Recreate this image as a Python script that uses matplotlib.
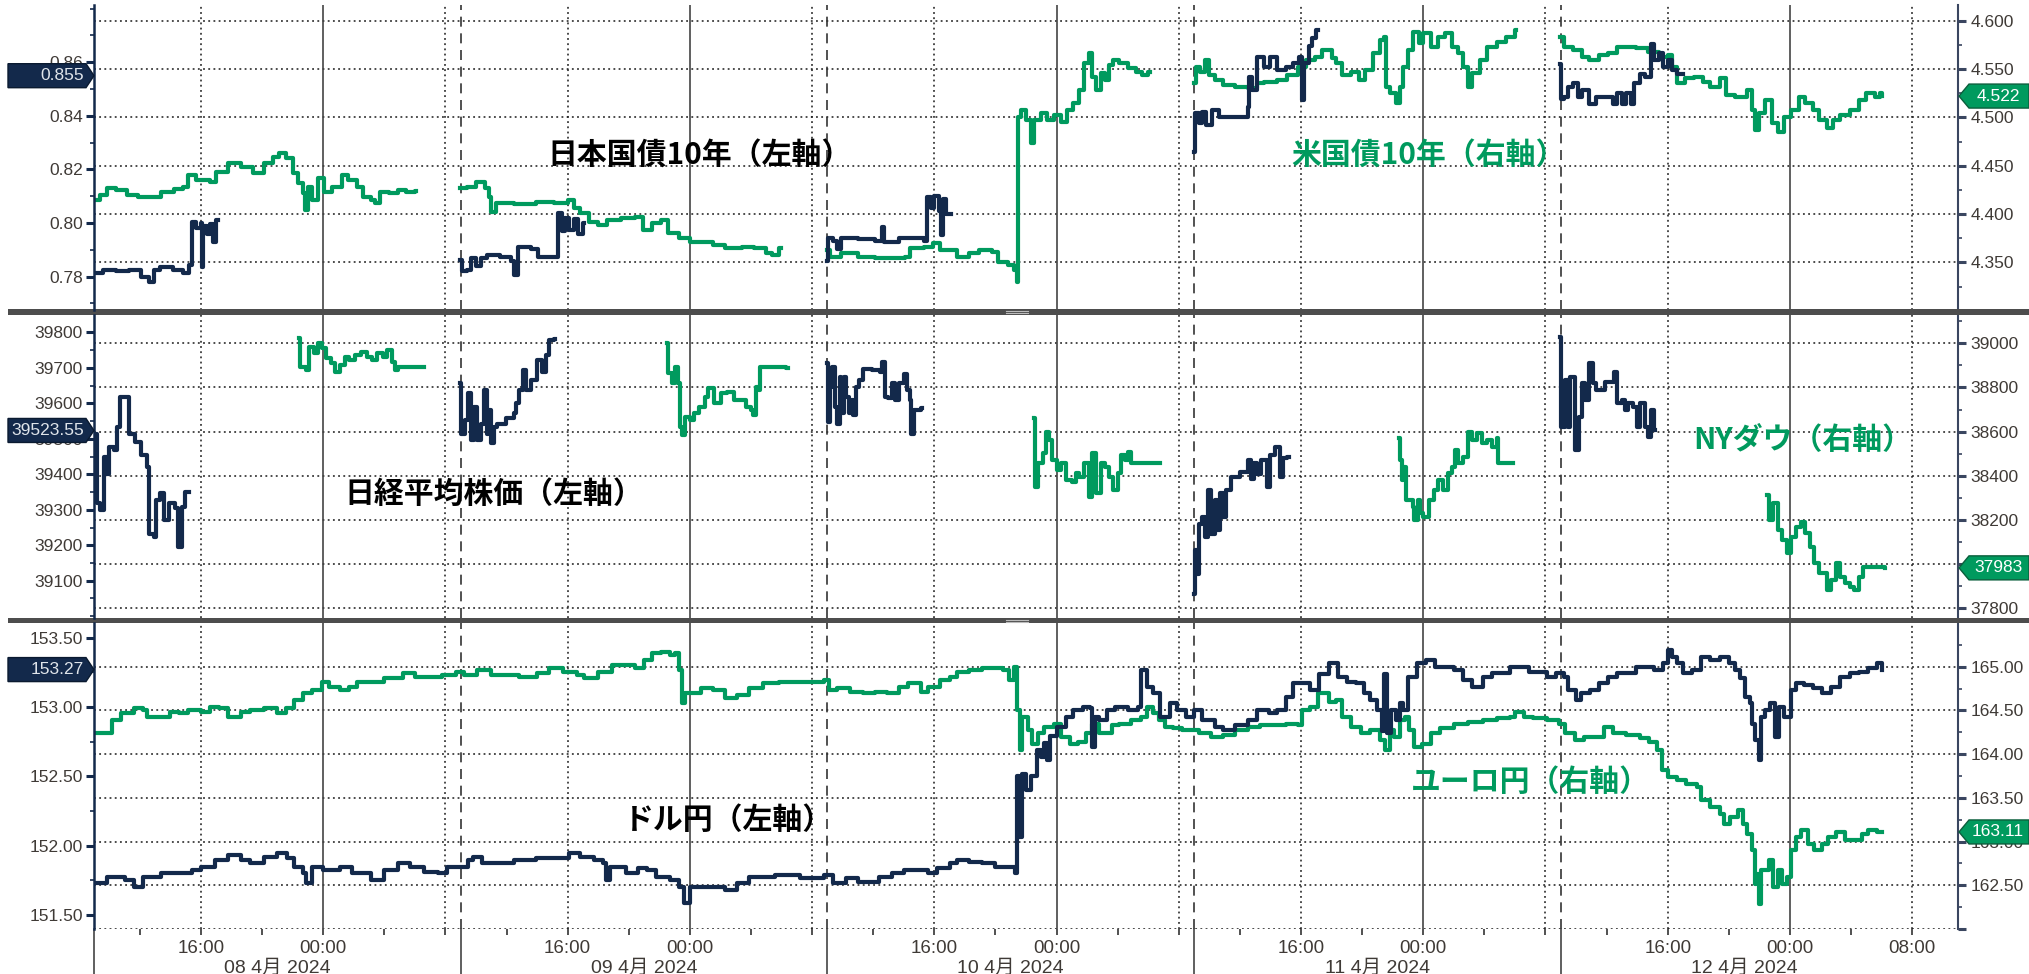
import matplotlib
matplotlib.use("Agg")
import matplotlib.pyplot as plt
import numpy as np
from matplotlib.patches import Polygon, Rectangle
from matplotlib.transforms import IdentityTransform
from matplotlib import font_manager

nan = np.nan

# time axis: hours since 2024-04-08 09:00 (Tokyo)
# --- panel 1: JGB 10y (left) / UST 10y (right)
jgb_t = [0.0, 0.58, 1.46, 2.3, 3.05, 3.6, 3.9, 4.35, 5.2, 5.8, 6.25, 6.4, 6.7, 7.0, 7.07, 7.16, 7.4, 7.6, 7.8, 7.97, 8.1,
         23.96, 24.1, 24.4, 24.7, 25.0, 25.3, 25.7, 26.6, 27.3, 27.46, 27.76, 28.6, 29.07, 30.24, 30.4, 30.6, 30.8, 31.1, 31.4, 31.7, 32.0, 32.1,
         47.97, 48.05, 48.4, 48.65, 48.9, 50.0, 51.1, 51.55, 51.7, 52.7, 53.8, 54.35, 54.5, 54.76, 55.0, 55.3, 55.44, 55.57, 55.76, 55.98, 56.1,
         72.0, 72.05, 72.3, 72.5, 72.8, 73.2, 73.6, 75.5, 75.6, 75.8, 76.1, 76.6, 77.0, 77.4, 78.0, 78.5, 78.9, 79.05, 79.2, 79.5, 79.7, 80.0, 80.1,
         95.94, 96.0, 96.2, 96.5, 96.8, 97.1, 97.4, 97.85, 98.3, 99.1, 99.4, 99.7, 100.0, 100.3, 100.6, 100.8, 101.2, 101.5, 101.9,
         102.1, 102.4, 102.7, 103.0, 103.3, 103.6, 103.9, 104.0]
jgb_v = [0.7815, 0.7825, 0.782, 0.7825, 0.780, 0.778, 0.7825, 0.7835, 0.7825, 0.7815, 0.7845, 0.8005, 0.798, 0.800, 0.7835, 0.799, 0.796, 0.7995, 0.793, 0.801, nan,
         0.7862, 0.782, 0.7825, 0.787, 0.784, 0.787, 0.788, 0.7875, 0.786, 0.7805, 0.791, 0.7905, 0.7875, 0.7875, 0.8036, 0.797, 0.802, 0.7975, 0.8015, 0.796, 0.800, nan,
         0.786, 0.7945, 0.7935, 0.7905, 0.7945, 0.794, 0.7935, 0.7986, 0.793, 0.7945, 0.7945, 0.7935, 0.8098, 0.8055, 0.810, 0.8045, 0.7955, 0.809, 0.8035, 0.8035, nan,
         0.8266, 0.8409, 0.8372, 0.8416, 0.8366, 0.8422, 0.8397, 0.8434, 0.8545, 0.8496, 0.8621, 0.8584, 0.8621, 0.8571, 0.8584, 0.8596, 0.8621, 0.8459, 0.8596, 0.8659, 0.869, 0.872, nan,
         0.8595, 0.8464, 0.8471, 0.8508, 0.8521, 0.8471, 0.8496, 0.8446, 0.8471, 0.8471, 0.8446, 0.8484, 0.8446, 0.8484, 0.8446, 0.8521, 0.8558, 0.8546, 0.867,
         0.8608, 0.8633, 0.8583, 0.8608, 0.8571, 0.8558, 0.8558, 0.8558]

ust_t = [0.0, 0.42, 0.86, 1.46, 2.18, 2.9, 3.78, 4.37, 5.25, 5.83, 6.12, 6.7, 7.58, 8.0, 8.75, 9.6, 10.4, 11.1, 11.7, 12.1, 12.55, 13.0, 13.37, 13.67,
         13.84, 14.0, 14.3, 14.66, 15.04, 15.6, 16.2, 16.65, 17.23, 17.58, 18.1, 18.4, 18.7, 19.3, 19.9, 20.45, 21.0, 21.1,
         23.96, 24.4, 25.0, 25.6, 25.86, 26.0, 26.3, 27.46, 28.9, 30.1, 31.0, 31.4, 31.8, 32.4, 33.0, 33.6, 34.5, 35.4, 35.9, 36.5, 37.1, 37.55,
         38.3, 39.0, 40.5, 41.3, 42.4, 43.2, 44.0, 44.4, 44.85, 44.95,
         47.97, 48.2, 48.9, 50.0, 51.1, 52.2, 53.1, 53.4, 54.35, 54.9, 55.4, 56.5, 57.3, 57.9, 58.8, 59.2, 59.8, 60.2, 60.38, 60.46, 60.7, 61.0,
         61.3, 61.55, 61.95, 62.4, 62.8, 63.3, 63.7, 64.1, 64.5, 64.8, 65.1, 65.35, 65.6, 65.9, 66.2, 66.4, 66.7, 67.1, 67.65, 68.2, 68.6, 69.0, 69.1,
         72.0, 72.1, 72.4, 72.7, 72.95, 73.4, 73.9, 74.7, 75.5, 76.1, 76.6, 77.4, 78.1, 78.8, 79.3, 79.9, 80.4, 81.0, 81.3, 81.7, 82.3, 82.8, 83.2,
         83.7, 84.2, 84.4, 84.55, 84.8, 85.2, 85.5, 85.7, 86.0, 86.3, 86.7, 87.0, 87.5, 87.96, 88.4, 88.9, 89.3, 89.6, 89.9, 90.2, 90.7, 91.2,
         91.8, 92.4, 93.0, 93.1,
         95.94, 96.2, 96.8, 97.4, 97.85, 98.5, 99.1, 99.7, 100.3, 100.9, 101.7, 102.4, 103.0, 103.3, 103.6, 104.1, 104.7, 105.3, 105.8, 106.4,
         106.8, 107.4, 108.2, 108.5, 108.7, 109.0, 109.4, 109.8, 110.2, 110.6, 111.1, 111.6, 112.0, 112.5, 112.9, 113.4, 113.8, 114.3, 114.9,
         115.5, 116.0, 116.6, 116.9, 117.0]
ust_v = [4.4145, 4.4197, 4.4266, 4.4248, 4.4197, 4.4172, 4.418, 4.4231, 4.4255, 4.4283, 4.4403, 4.4352, 4.4334, 4.4438, 4.4524, 4.449, 4.4421,
         4.4524, 4.4593, 4.4634, 4.4576, 4.4421, 4.4317, 4.4214, 4.4041, 4.4283, 4.4145, 4.4369, 4.4231, 4.4283, 4.4403, 4.4352, 4.4283, 4.418,
         4.4145, 4.411, 4.4231, 4.4214, 4.4248, 4.4231, 4.4241, nan,
         4.4266, 4.4283, 4.4334, 4.4266, 4.418, 4.4024, 4.411, 4.4103, 4.4128, 4.411, 4.4145, 4.4059, 4.4007, 4.392, 4.3886, 4.3938, 4.3955,
         4.3972, 4.3834, 4.3903, 4.3938, 4.38, 4.3748, 4.3714, 4.3679, 4.3645, 4.3662, 4.3645, 4.3593, 4.3576, 4.3645, nan,
         4.3628, 4.3559, 4.3593, 4.3559, 4.3541, 4.3541, 4.3559, 4.3645, 4.3662, 4.3697, 4.3628, 4.3559, 4.3593, 4.3628, 4.361, 4.3507, 4.3472,
         4.3421, 4.330, 4.5007, 4.5076, 4.4972, 4.4731, 4.4972, 4.5041, 4.4972, 4.5024, 4.4955, 4.5076, 4.5145, 4.5283, 4.5559, 4.5662, 4.5421,
         4.5283, 4.5455, 4.5386, 4.5541, 4.5593, 4.5559, 4.5507, 4.5472, 4.5438, 4.5472, nan,
         4.5352, 4.5524, 4.5472, 4.5593, 4.5438, 4.5386, 4.5334, 4.5317, 4.530, 4.5352, 4.5369, 4.5386, 4.5438, 4.5524, 4.5593, 4.5628, 4.5697,
         4.561, 4.5559, 4.5438, 4.5472, 4.5386, 4.549, 4.5662, 4.580, 4.5834, 4.5317, 4.5248, 4.5145, 4.5317, 4.5524, 4.5697, 4.5886, 4.5766,
         4.5869, 4.5731, 4.5834, 4.5869, 4.5731, 4.5662, 4.5524, 4.5317, 4.5455, 4.5593, 4.5731, 4.5783, 4.5834, 4.5903, nan,
         4.5834, 4.5731, 4.5697, 4.5628, 4.5593, 4.5645, 4.5662, 4.5731, 4.5731, 4.5714, 4.5679, 4.5628, 4.5645, 4.5524, 4.5352, 4.5403, 4.5421,
         4.5369, 4.5317, 4.5403, 4.5231, 4.5214, 4.5283, 4.5076, 4.4869, 4.5041, 4.5179, 4.4938, 4.4852, 4.5007, 4.5076, 4.5214, 4.5145, 4.5076,
         4.4972, 4.4886, 4.4972, 4.5024, 4.5076, 4.5179, 4.5248, 4.5214, 4.5248, 4.522]

# --- panel 2: Nikkei 225 (left) / Dow (right)
nky_t = [0.0, 0.07, 0.19, 0.42, 0.63, 0.86, 1.0, 1.3, 1.5, 1.68, 2.18, 2.26, 2.7, 3.1, 3.49, 3.58, 3.93, 4.08, 4.3, 4.6, 4.9, 5.3, 5.48,
         5.77, 5.98, 6.12, 6.2,
         23.96, 24.05, 24.25, 24.5, 24.7, 24.9, 25.1, 25.3, 25.5, 25.7, 25.8, 26.0, 26.2, 26.4, 26.97, 27.46, 27.6, 27.8, 28.05, 28.3, 28.6,
         29.0, 29.3, 29.6, 29.8, 30.1, 30.2,
         47.97, 48.02, 48.2, 48.3, 48.5, 48.6, 48.8, 48.9, 49.1, 49.2, 49.4, 49.6, 49.7, 49.9, 50.1, 50.3, 50.9, 51.45, 51.6, 51.8, 52.0,
         52.2, 52.4, 52.7, 53.0, 53.2, 53.4, 53.5, 53.7, 54.1, 54.2,
         72.0, 72.05, 72.2, 72.3, 72.5, 72.7, 72.9, 73.1, 73.4, 73.5, 73.7, 73.9, 74.1, 74.4, 75.0, 75.5, 75.7, 75.9, 76.1, 76.4, 76.75, 77.0,
         77.3, 77.6, 77.8, 78.1, 78.2,
         95.94, 96.03, 96.3, 96.5, 96.6, 96.9, 97.2, 97.4, 97.6, 97.85, 98.1, 98.3, 98.9, 99.5, 99.7, 100.0, 100.2, 100.4, 100.7, 100.96,
         101.2, 101.5, 101.7, 101.9, 102.1, 102.2]
nky_v = [39421, 39515, 39318, 39299, 39449, 39402, 39478, 39468, 39534, 39619, 39619, 39515, 39490, 39455, 39421, 39233, 39224, 39327, 39346,
         39271, 39318, 39304, 39196, 39308, 39351, 39351, nan,
         39656, 39515, 39553, 39628, 39496, 39590, 39496, 39543, 39637, 39515, 39581, 39487, 39534, 39543, 39558, 39572, 39600, 39637, 39694,
         39637, 39666, 39722, 39689, 39736, 39778, 39780, nan,
         39713, 39548, 39647, 39703, 39590, 39543, 39675, 39572, 39675, 39619, 39572, 39609, 39567, 39647, 39666, 39698, 39693, 39689, 39717,
         39619, 39614, 39656, 39609, 39656, 39684, 39637, 39609, 39515, 39581, 39586, nan,
         39064, 39186, 39120, 39261, 39280, 39224, 39355, 39233, 39327, 39243, 39346, 39280, 39355, 39393, 39407, 39440, 39388, 39431, 39402,
         39440, 39365, 39454, 39478, 39393, 39445, 39449, nan,
         39788, 39534, 39666, 39534, 39675, 39468, 39562, 39656, 39609, 39713, 39656, 39637, 39661, 39689, 39600, 39609, 39581, 39600, 39590,
         39534, 39600, 39534, 39506, 39581, 39525, 39523.55]

dow_t = [13.43, 13.5, 13.87, 14.07, 14.4, 14.66, 14.95, 15.2, 15.5, 15.8, 16.1, 16.4, 16.7, 17.1, 17.5, 17.9, 18.2, 18.5, 18.9, 19.2, 19.5,
         19.7, 19.9, 21.5, 21.6,
         37.5, 37.6, 37.8, 38.0, 38.2, 38.34, 38.5, 38.7, 39.0, 39.3, 39.6, 39.96, 40.2, 40.6, 41.05, 41.45, 41.9, 42.3, 42.7, 43.0, 43.1, 43.3,
         43.5, 43.6, 45.3, 45.4,
         61.5, 61.57, 61.8, 62.1, 62.3, 62.5, 62.7, 63.0, 63.3, 63.6, 64.0, 64.3, 64.5, 64.8, 65.1, 65.35, 65.6, 65.9, 66.2, 66.4, 66.7, 67.0,
         67.2, 67.5, 67.7, 67.9, 69.7, 69.8,
         85.43, 85.5, 85.6, 85.7, 85.9, 86.3, 86.4, 86.65, 86.8, 87.0, 87.35, 87.7, 87.96, 88.3, 88.6, 88.9, 89.1, 89.3, 89.6, 89.9, 90.2,
         90.5, 90.85, 91.2, 91.5, 91.8, 91.9, 92.8, 92.9,
         109.5, 109.6, 109.9, 110.2, 110.5, 110.8, 111.1, 111.4, 111.7, 112.0, 112.3, 112.6, 112.9, 113.4, 113.7, 114.0, 114.3, 114.6, 114.9,
         115.2, 115.5, 115.8, 117.2]
dow_v = [39023, 38894, 38879, 38985, 38955, 39000, 38977, 38932, 38909, 38872, 38902, 38940, 38925, 38947, 38962, 38940, 38925, 38955, 38940,
         38970, 38917, 38879, 38894, 38894, nan,
         39000, 38864, 38819, 38894, 38819, 38623, 38585, 38668, 38653, 38683, 38713, 38758, 38796, 38728, 38774, 38781, 38743, 38743, 38713,
         38698, 38675, 38804, 38789, 38894, 38887, nan,
         38660, 38351, 38457, 38502, 38600, 38562, 38472, 38426, 38457, 38381, 38374, 38411, 38396, 38457, 38306, 38502, 38321, 38457, 38442,
         38396, 38336, 38411, 38494, 38472, 38509, 38457, 38457, nan,
         38570, 38472, 38381, 38442, 38291, 38260, 38200, 38291, 38230, 38215, 38291, 38336, 38381, 38336, 38411, 38442, 38517, 38457, 38487,
         38600, 38562, 38592, 38547, 38562, 38532, 38570, 38457, 38457, nan,
         38313, 38200, 38275, 38155, 38109, 38049, 38125, 38170, 38192, 38140, 38079, 38004, 37958, 37883, 37928, 38004, 37943, 37913, 37898,
         37883, 37943, 37989, 37983]

# --- panel 3: USDJPY (left) / EURJPY (right)
usd_t = [0.0, 0.86, 2.0, 2.6, 3.2, 4.4, 5.5, 6.4, 7.0, 7.9, 8.75, 9.6, 10.2, 11.1, 12.0, 12.6, 13.1, 13.7, 13.9, 14.3, 15.0, 16.1, 16.9,
         18.1, 19.0, 19.9, 20.7, 21.6, 22.5, 23.1, 23.96, 24.5, 24.8, 25.4, 26.3, 27.5, 28.9, 30.4, 31.1, 31.8, 32.7, 33.3, 33.5, 33.75, 34.8,
         35.6, 36.2, 36.8, 37.7, 38.3, 38.6, 39.0, 40.5, 41.3, 42.1, 42.9, 44.6, 46.2, 47.8, 48.4, 49.2, 50.0, 51.4, 52.2, 53.0, 54.6, 55.2,
         56.0, 56.5, 57.3, 58.15, 59.0, 59.8, 60.27, 60.38, 60.54, 60.73, 61.0, 61.3, 61.7, 61.95, 62.2, 62.4, 62.6, 63.0, 63.6, 64.1, 64.7,
         65.2, 65.35, 65.5, 65.75, 66.3, 66.8, 67.65, 68.3, 68.5, 68.9, 69.3, 69.8, 70.4, 70.9, 71.5, 72.0, 72.5, 73.4, 73.9, 74.7, 75.5,
         76.1, 76.9, 77.4, 78.0, 78.5, 79.0, 79.6, 80.2, 80.8, 81.4, 82.0, 82.6, 83.1, 83.5, 84.0, 84.3, 84.46, 84.6, 84.9, 85.2, 85.5, 85.7,
         86.0, 86.6, 87.2, 87.8, 88.4, 89.0, 89.6, 90.2, 90.9, 91.5, 92.7, 93.9, 95.1, 95.7, 96.2, 96.5, 97.0, 97.3, 97.9, 98.5, 99.1, 99.7,
         100.3, 100.9, 102.1, 102.7, 103.0, 103.3, 103.6, 104.0, 104.6, 105.2, 105.8, 106.4, 107.0, 107.4, 107.7, 108.05, 108.4, 108.5,
         108.7, 109.0, 109.1, 109.4, 109.7, 110.0, 110.3, 110.6, 111.1, 111.4, 111.9, 112.5, 113.1, 113.7, 114.3, 114.9, 115.5, 116.1, 116.7,
         117.0]
usd_v = [151.728, 151.776, 151.752, 151.704, 151.776, 151.80, 151.80, 151.825, 151.849, 151.897, 151.933, 151.897, 151.873, 151.92, 151.944,
         151.909, 151.849, 151.80, 151.73, 151.849, 151.825, 151.849, 151.80, 151.752, 151.825, 151.873, 151.849, 151.813, 151.80, 151.849,
         151.849, 151.897, 151.92, 151.873, 151.873, 151.897, 151.909, 151.909, 151.944, 151.92, 151.897, 151.873, 151.752, 151.849, 151.80,
         151.837, 151.825, 151.776, 151.752, 151.704, 151.584, 151.704, 151.704, 151.68, 151.728, 151.776, 151.788, 151.764, 151.786, 151.728,
         151.764, 151.74, 151.776, 151.80, 151.825, 151.80, 151.837, 151.873, 151.897, 151.885, 151.873, 151.849, 151.849, 151.80, 152.50,
         152.06, 152.52, 152.40, 152.50, 152.69, 152.64, 152.74, 152.62, 152.79, 152.858, 152.93, 152.98, 153.0, 152.99, 152.71, 152.93,
         152.906, 152.98, 153.0, 152.98, 153.0, 153.267, 153.147, 153.10, 152.93, 153.026, 152.98, 152.93, 152.98, 152.906, 152.858, 152.834,
         152.87, 152.906, 152.98, 152.954, 152.98, 153.075, 153.17, 153.17, 153.123, 153.24, 153.315, 153.22, 153.183, 153.17, 153.10,
         153.05, 152.98, 152.83, 153.24, 152.81, 152.98, 152.906, 153.03, 152.98, 153.22, 153.315, 153.34, 153.29, 153.29, 153.267, 153.195,
         153.147, 153.22, 153.243, 153.29, 153.255, 153.22, 153.243, 153.22, 153.123, 153.05, 153.10, 153.123, 153.17, 153.22, 153.243,
         153.243, 153.29, 153.267, 153.315, 153.41, 153.363, 153.315, 153.243, 153.267, 153.363, 153.34, 153.363, 153.315, 153.267, 153.207,
         153.075, 153.03, 152.88, 152.762, 152.62, 152.93, 152.98, 153.03, 152.786, 153.0, 152.93, 153.123, 153.17, 153.16, 153.135, 153.10,
         153.147, 153.22, 153.243, 153.255, 153.28, 153.315, 153.27]

eur_t = [0.0, 0.6, 1.2, 1.75, 2.6, 3.2, 3.5, 4.08, 4.96, 5.54, 6.12, 7.0, 7.58, 8.2, 8.75, 9.6, 10.2, 11.1, 12.0, 12.55, 13.1, 13.7, 14.3,
         14.9, 15.4, 16.1, 16.7, 17.2, 18.1, 19.0, 20.2, 21.0, 21.9, 22.8, 23.7, 24.2, 25.1, 26.0, 26.9, 27.8, 29.0, 29.8, 30.7, 31.6, 32.1,
         33.0, 33.9, 34.8, 35.4, 36.0, 36.5, 37.1, 37.7, 38.0, 38.3, 38.5, 38.7, 39.7, 40.5, 41.3, 42.1, 42.9, 43.8, 44.85, 46.5, 47.8, 48.1,
         48.65, 49.5, 50.3, 51.1, 51.9, 52.7, 53.3, 54.1, 54.6, 55.4, 56.0, 56.5, 57.3, 58.15, 59.0, 59.5, 59.9, 60.2, 60.4, 60.6, 60.73,
         61.1, 61.4, 61.8, 62.2, 62.8, 63.3, 63.85, 64.4, 64.9, 65.35, 65.75, 66.6, 67.1, 67.9, 68.5, 68.9, 69.3, 69.7, 70.1, 70.6, 71.2,
         72.3, 73.1, 73.9, 74.7, 75.5, 76.3, 77.2, 78.0, 78.8, 79.05, 79.6, 80.1, 80.35, 80.8, 81.3, 81.7, 82.3, 82.9, 83.5, 84.2, 84.5, 84.8,
         85.1, 85.5, 85.8, 86.1, 86.4, 86.9, 87.5, 88.1, 89.0, 89.9, 90.9, 91.8, 92.7, 93.0, 93.6, 94.2, 95.1, 95.9, 96.3, 96.9, 97.5, 98.2,
         98.8, 99.4, 100.3, 101.2, 101.8, 102.3, 102.6, 103.0, 103.6, 104.2, 104.9, 105.2, 105.8, 106.4, 106.7, 107.1, 107.6, 107.9, 108.2,
         108.5, 108.7, 108.8, 109.0, 109.1, 109.6, 109.9, 110.2, 110.5, 110.8, 111.1, 111.4, 111.7, 112.2, 112.6, 113.1, 113.5, 114.0, 114.6,
         115.2, 115.7, 116.1, 116.7, 117.0]
eur_v = [164.237, 164.237, 164.39, 164.466, 164.523, 164.504, 164.427, 164.427, 164.485, 164.466, 164.504, 164.485, 164.542, 164.523, 164.427,
         164.485, 164.504, 164.523, 164.466, 164.523, 164.618, 164.695, 164.733, 164.828, 164.771, 164.733, 164.771, 164.828, 164.828, 164.866,
         164.924, 164.885, 164.885, 164.905, 164.943, 164.905, 164.962, 164.905, 164.905, 164.885, 164.924, 164.981, 164.943, 164.905, 164.866,
         164.943, 165.02, 165.02, 164.981, 165.076, 165.153, 165.17, 165.134, 165.153, 164.962, 164.58, 164.695, 164.752, 164.733, 164.637,
         164.675, 164.752, 164.81, 164.828, 164.828, 164.847, 164.733, 164.752, 164.714, 164.695, 164.714, 164.695, 164.771, 164.81, 164.714,
         164.771, 164.847, 164.885, 164.943, 164.962, 164.981, 164.981, 164.962, 164.847, 165.0, 164.5, 164.046, 164.427, 164.275, 164.12,
         164.237, 164.313, 164.35, 164.2, 164.12, 164.141, 164.237, 164.35, 164.237, 164.332, 164.35, 164.39, 164.427, 164.542, 164.466,
         164.39, 164.313, 164.294, 164.275, 164.237, 164.2, 164.218, 164.275, 164.313, 164.332, 164.332, 164.35, 164.332, 164.5, 164.542,
         164.695, 164.695, 164.599, 164.618, 164.427, 164.313, 164.237, 164.275, 164.16, 164.046, 164.275, 164.2, 164.39, 164.427, 164.275,
         164.084, 164.12, 164.237, 164.294, 164.35, 164.37, 164.39, 164.408, 164.427, 164.485, 164.427, 164.408, 164.39, 164.35, 164.237,
         164.16, 164.2, 164.2, 164.313, 164.237, 164.218, 164.179, 164.141, 164.046, 163.817, 163.74, 163.70, 163.664, 163.626, 163.473,
         163.397, 163.32, 163.206, 163.282, 163.359, 163.206, 163.092, 162.9, 162.519, 162.634, 162.29, 162.672, 162.786, 162.481, 162.672,
         162.519, 162.595, 162.9, 163.053, 163.13, 162.977, 162.9, 162.977, 163.053, 163.11, 163.015, 163.015, 163.092, 163.13, 163.11,
         163.11]

# last-price tags
left_tags = ["0.855", "39523.55", "153.27"]
left_tag_vals = [0.855, 39523.55, 153.27]
right_tags = ["4.522", "37983", "163.11"]
right_tag_vals = [4.522, 37983, 163.11]

# in-chart labels
series_labels = [["日本国債10年（左軸）", "米国債10年（右軸）"],
                 ["日経平均株価（左軸）", "NYダウ（右軸）"],
                 ["ドル円（左軸）", "ユーロ円（右軸）"]]

# x-axis
xtick_t = [7, 15, 31, 39, 55, 63, 79, 87, 103, 111, 119]
xtick_lbl = ["16:00", "00:00", "16:00", "00:00", "16:00", "00:00", "16:00", "00:00", "16:00", "00:00", "08:00"]
date_t = [12, 36, 60, 84, 108]
date_lbl = ["08 4月 2024", "09 4月 2024", "10 4月 2024", "11 4月 2024", "12 4月 2024"]
dotted_t = [7, 23, 31, 47, 55, 71, 79, 95, 103, 119]
midnight_t = [15, 39, 63, 87, 111]
open_t = [24, 48, 72, 96]

NAVY = "#13294b"
GREEN = "#009a5e"
TXT = "#3f3a36"

names = {f.name for f in font_manager.fontManager.ttflist}
NUMFONT = "Liberation Sans Narrow" if "Liberation Sans Narrow" in names else "Liberation Sans"
NUMSIZE = 14 if NUMFONT.endswith("Narrow") else 12.5
JP = ["Noto Sans CJK JP", "DejaVu Sans"]

W, H = 2029, 974
fig = plt.figure(figsize=(W / 100, H / 100), dpi=100)

panels = [(5, 310), (315, 618), (623, 929)]
left_lim = [(0.76757, 0.88138), (38995, 39849), (151.399, 153.606)]
right_lim = [(4.3007, 4.6162), (37756, 39128), (162.0, 165.5)]
left_major = [np.arange(0.78, 0.861, 0.02), np.arange(39100, 39801, 100), np.arange(151.5, 153.51, 0.5)]
left_minor = [np.arange(0.77, 0.881, 0.01), np.arange(39000, 39850, 50), np.arange(151.5, 153.6, 0.25)]
left_fmt = ["{:.2f}", "{:.0f}", "{:.2f}"]
right_major = [np.arange(4.35, 4.601, 0.05), np.arange(37800, 39001, 200), np.arange(162.0, 165.01, 0.5)]
right_minor = [np.arange(4.325, 4.61, 0.025), np.arange(37800, 39101, 100), np.arange(162.0, 165.5, 0.25)]
right_fmt = ["{:.3f}", "{:.0f}", "{:.2f}"]
series = [(jgb_t, jgb_v, ust_t, ust_v), (nky_t, nky_v, dow_t, dow_v), (usd_t, usd_v, eur_t, eur_v)]
label_pos = [[(700, 155), (1428, 155)], [(494, 494), (1803, 440)], [(728, 820), (1530, 782)]]

axes = []
for i, (top, bot) in enumerate(panels):
    ax = fig.add_axes([94 / W, 1 - bot / H, (1958 - 94) / W, (bot - top) / H])
    axr = ax.twinx()
    ax.set_zorder(axr.get_zorder() + 1)
    ax.patch.set_visible(False)
    lt, lv, rt, rv = series[i]
    axr.plot(rt, rv, color=GREEN, lw=3.0, drawstyle="steps-post", zorder=3)
    ax.plot(lt, lv, color=NAVY, lw=3.0, drawstyle="steps-post", zorder=3)
    for a in (ax, axr):
        a.set_xlim(0, 122)
    ax.set_ylim(*left_lim[i])
    axr.set_ylim(*right_lim[i])

    # grid
    for y in right_major[i]:
        axr.axhline(y, color="#1a1a1a", lw=1.1, ls=(0, (1.2, 2.2)), zorder=1)
    for t in dotted_t:
        axr.axvline(t, color="#1a1a1a", lw=1.1, ls=(0, (1.2, 2.2)), zorder=1)
    for t in midnight_t:
        axr.axvline(t, color="#444444", lw=1.2, zorder=1)
    for t in open_t:
        axr.axvline(t, color="#333333", lw=1.2, ls=(0, (6, 4)), zorder=1)

    # spines
    for s in ("top", "bottom", "right"):
        ax.spines[s].set_visible(False)
    for s in ("top", "bottom", "left"):
        axr.spines[s].set_visible(False)
    ax.spines["left"].set_color(NAVY)
    ax.spines["left"].set_linewidth(1.8)
    axr.spines["right"].set_color("#3a4660")
    axr.spines["right"].set_linewidth(1.5)

    # y ticks
    ax.set_yticks(left_major[i])
    ax.set_yticklabels([left_fmt[i].format(v) for v in left_major[i]])
    ax.set_yticks(left_minor[i], minor=True)
    axr.set_yticks(right_major[i])
    rl = [right_fmt[i].format(v) for v in right_major[i]]
    if i == 2:
        rl[0] = ""
    axr.set_yticklabels(rl)
    axr.set_yticks(right_minor[i], minor=True)
    ax.tick_params(axis="y", which="major", direction="out", length=6, width=2.2, color=NAVY,
                   labelsize=NUMSIZE, labelcolor=TXT, pad=2)
    ax.tick_params(axis="y", which="minor", direction="out", length=3, width=1.2, color=NAVY)
    axr.tick_params(axis="y", which="major", direction="out", length=6, width=2.2, color="#3a4660",
                    labelsize=NUMSIZE, labelcolor=TXT, pad=3)
    axr.tick_params(axis="y", which="minor", direction="out", length=3, width=1.2, color="#3a4660")
    for lab in ax.get_yticklabels() + axr.get_yticklabels():
        lab.set_fontfamily(NUMFONT)

    ax.set_xticks([])

    # in-chart series labels
    (x1, y1), (x2, y2) = label_pos[i]
    fig.text(x1 / W, 1 - y1 / H, series_labels[i][0], family=JP, fontsize=21.5, fontweight="bold",
             color="black", ha="center", va="center")
    fig.text(x2 / W, 1 - y2 / H, series_labels[i][1], family=JP, fontsize=21.5, fontweight="bold",
             color=GREEN, ha="center", va="center")
    axes.append((ax, axr))

# bottom x axis on the last panel (the left axes owns the shared x axis)
ax3, axr3 = axes[2]
ax3.set_xticks(xtick_t)
ax3.set_xticklabels(xtick_lbl)
ax3.set_xticks(np.arange(3, 122, 4), minor=True)
ax3.tick_params(axis="x", which="both", bottom=True, direction="out", length=4, width=1.2,
                color="#333333", labelsize=13.5, labelcolor=TXT, pad=4)
for lab in ax3.get_xticklabels():
    lab.set_fontfamily(NUMFONT)
for t, lbl in zip(date_t, date_lbl):
    ax3.text(t, -0.128, lbl, transform=ax3.get_xaxis_transform(), ha="center", va="center",
             fontsize=14, color=TXT, family=[NUMFONT, "Noto Sans CJK JP"])
for t in [0] + open_t:
    ax3.plot([t, t], [0, -0.15], transform=ax3.get_xaxis_transform(), color="#444444", lw=1.2, clip_on=False)

# panel separators
for ytop, yb in [(309, 315), (618, 623)]:
    fig.add_artist(Rectangle((8 / W, 1 - yb / H), (W - 8) / W, (yb - ytop) / H, transform=fig.transFigure,
                             facecolor="#4d4d4d", edgecolor="none"))
    for dy in (1.8, 3.6):
        fig.add_artist(plt.Line2D([1006 / W, 1028 / W], [1 - (ytop + dy) / H] * 2, transform=fig.transFigure,
                                  color="#bbbbbb", lw=0.8))

# last-price tags
fig.canvas.draw()
for i, (ax, axr) in enumerate(axes):
    yc = ax.transData.transform((0, left_tag_vals[i]))[1]
    poly = Polygon([(8, yc - 12), (86, yc - 12), (94, yc), (86, yc + 12), (8, yc + 12)], closed=True,
                   transform=IdentityTransform(), facecolor=NAVY, edgecolor="#0a1a30", lw=1, zorder=10)
    fig.add_artist(poly)
    fig.text(84 / W, yc / H, left_tags[i], ha="right", va="center", color="#dfe4ea", fontsize=NUMSIZE,
             family=NUMFONT, zorder=11)
    yr = axr.transData.transform((0, right_tag_vals[i]))[1]
    poly = Polygon([(1959, yr), (1969, yr + 12), (2029, yr + 12), (2029, yr - 12), (1969, yr - 12)], closed=True,
                   transform=IdentityTransform(), facecolor=GREEN, edgecolor="#0b5e3c", lw=1, zorder=10)
    fig.add_artist(poly)
    fig.text(1998 / W, yr / H, right_tags[i], ha="center", va="center", color="white", fontsize=NUMSIZE,
             family=NUMFONT, zorder=11)

fig.savefig("out.png", dpi=100, facecolor="white")
